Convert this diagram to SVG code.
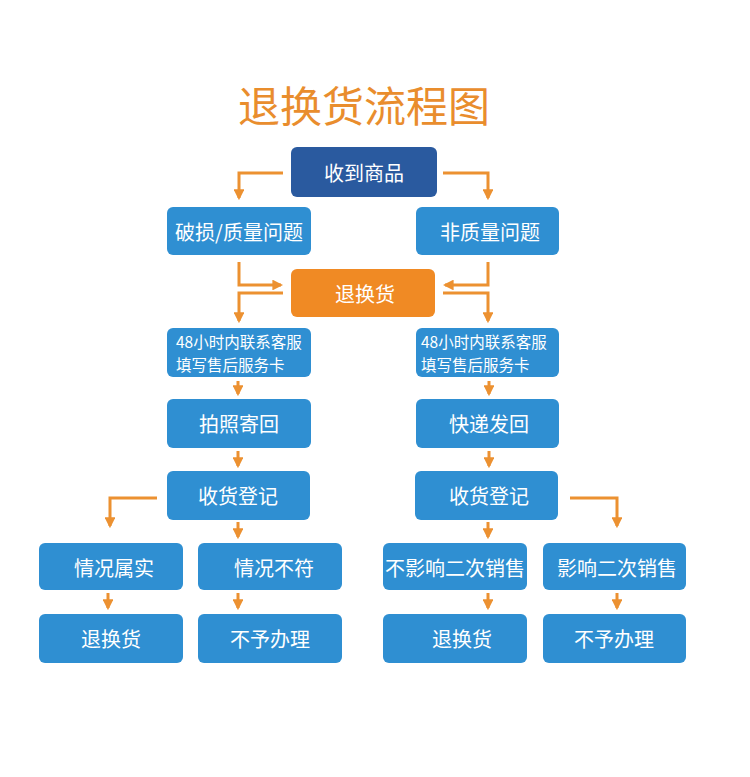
<svg xmlns="http://www.w3.org/2000/svg" width="750" height="777" viewBox="0 0 750 777">
<defs>
<style>
.b{fill:#2f8fd2;}
.t{fill:#fff;font-family:"Noto Sans CJK SC","Noto Sans",sans-serif;font-size:20px;text-anchor:middle;dominant-baseline:central;}
.s{font-size:15.5px;text-anchor:start;}
.c{fill:none;stroke:#ec9131;stroke-width:3;}
</style>
<marker id="a" viewBox="0 0 10 10" refX="8" refY="5" markerWidth="3.6" markerHeight="3.6" orient="auto" markerUnits="strokeWidth">
<path d="M0,0 L10,5 L0,10 Z" fill="#ec9131"/>
</marker>
</defs>
<rect width="750" height="777" fill="#fff"/>
<text x="364" y="103" fill="#e98d2d" font-family="'Noto Sans CJK SC',sans-serif" font-size="42" font-weight="400" text-anchor="middle" dominant-baseline="central">退换货流程图</text>

<g id="connectors">
<path class="c" d="M283,173 H239 V198" marker-end="url(#a)"/>
<path class="c" d="M443,173 H488 V198" marker-end="url(#a)"/>
<path class="c" d="M239,262 V285 H281" marker-end="url(#a)"/>
<path class="c" d="M488,262 V285 H445" marker-end="url(#a)"/>
<path class="c" d="M283,293 H239 V321" marker-end="url(#a)"/>
<path class="c" d="M443,293 H488 V321" marker-end="url(#a)"/>
<path class="c" d="M238,381 V394" marker-end="url(#a)"/>
<path class="c" d="M489,381 V394" marker-end="url(#a)"/>
<path class="c" d="M238,451 V466" marker-end="url(#a)"/>
<path class="c" d="M489,451 V466" marker-end="url(#a)"/>
<path class="c" d="M157,498 H110 V526" marker-end="url(#a)"/>
<path class="c" d="M570,498 H617 V526" marker-end="url(#a)"/>
<path class="c" d="M238,522 V537" marker-end="url(#a)"/>
<path class="c" d="M488,522 V537" marker-end="url(#a)"/>
<path class="c" d="M108,593 V608" marker-end="url(#a)"/>
<path class="c" d="M238,593 V608" marker-end="url(#a)"/>
<path class="c" d="M488,593 V608" marker-end="url(#a)"/>
<path class="c" d="M617,593 V608" marker-end="url(#a)"/>
</g>

<g id="n1"><rect x="291" y="147" width="146" height="50" rx="6" fill="#2a5a9f"/><text class="t" x="364" y="172" font-size="26">收到商品</text></g>
<g id="n2"><rect class="b" x="167" y="207" width="144" height="48" rx="6"/><text class="t" x="239" y="231">破损/质量问题</text></g>
<g id="n3"><rect class="b" x="416" y="207" width="143" height="48" rx="6"/><text class="t" x="490" y="231">非质量问题</text></g>
<g id="n4"><rect x="291" y="269" width="144" height="48" rx="6" fill="#f08a24"/><text class="t" x="365" y="293" font-size="25">退换货</text></g>
<g id="n5"><rect class="b" x="167" y="328" width="144" height="49" rx="6"/><text class="t s" x="176" y="341">48小时内联系客服</text><text class="t s" x="176" y="364">填写售后服务卡</text></g>
<g id="n6"><rect class="b" x="416" y="328" width="143" height="49" rx="6"/><text class="t s" x="421" y="341">48小时内联系客服</text><text class="t s" x="421" y="364">填写售后服务卡</text></g>
<g id="n7"><rect class="b" x="167" y="399" width="144" height="49" rx="6"/><text class="t" x="239" y="423">拍照寄回</text></g>
<g id="n8"><rect class="b" x="416" y="399" width="143" height="49" rx="6"/><text class="t" x="489" y="423">快递发回</text></g>
<g id="n9"><rect class="b" x="167" y="471" width="143" height="49" rx="6"/><text class="t" x="238" y="495">收货登记</text></g>
<g id="n10"><rect class="b" x="415" y="471" width="143" height="49" rx="6"/><text class="t" x="489" y="495">收货登记</text></g>
<g id="n11"><rect class="b" x="39" y="543" width="144" height="47" rx="6"/><text class="t" x="114" y="567">情况属实</text></g>
<g id="n12"><rect class="b" x="198" y="543" width="144" height="47" rx="6"/><text class="t" x="274" y="567">情况不符</text></g>
<g id="n13"><rect class="b" x="383" y="543" width="144" height="47" rx="6"/><text class="t" x="455" y="567">不影响二次销售</text></g>
<g id="n14"><rect class="b" x="543" y="543" width="143" height="47" rx="6"/><text class="t" x="617" y="567">影响二次销售</text></g>
<g id="n15"><rect class="b" x="39" y="614" width="144" height="49" rx="6"/><text class="t" x="111" y="638">退换货</text></g>
<g id="n16"><rect class="b" x="198" y="614" width="144" height="49" rx="6"/><text class="t" x="270" y="638">不予办理</text></g>
<g id="n17"><rect class="b" x="383" y="614" width="144" height="49" rx="6"/><text class="t" x="462" y="638">退换货</text></g>
<g id="n18"><rect class="b" x="543" y="614" width="143" height="49" rx="6"/><text class="t" x="614" y="638">不予办理</text></g>
</svg>
